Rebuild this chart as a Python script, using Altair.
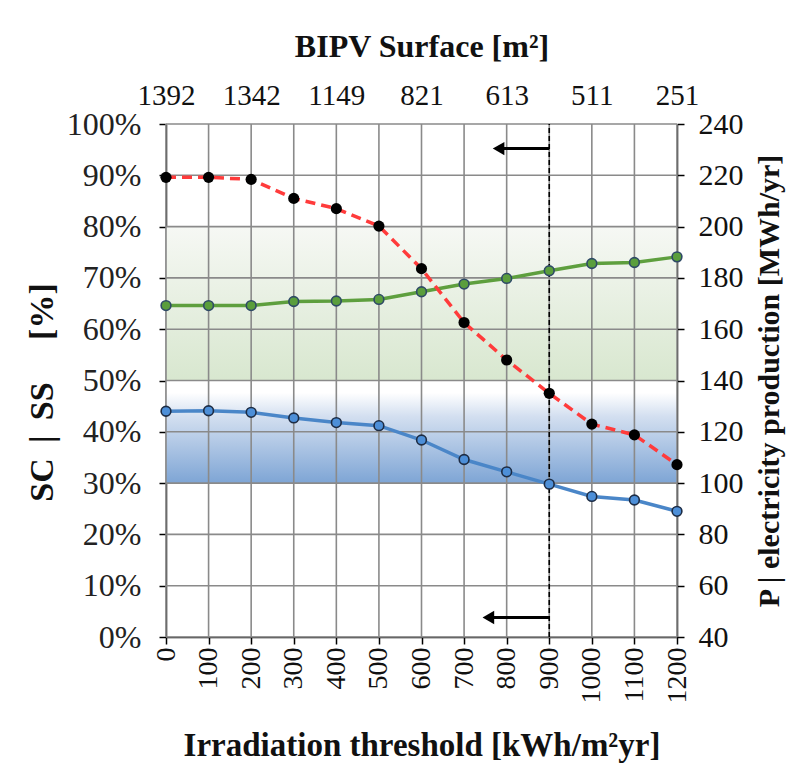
import altair as alt
import pandas as pd

# ---- data ----
threshold = [0, 100, 200, 300, 400, 500, 600, 700, 800, 900, 1000, 1100, 1200]
sc_green = [64.6, 64.6, 64.6, 65.4, 65.5, 65.8, 67.3, 68.8, 69.9, 71.4, 72.8, 73.0, 74.1]
ss_blue = [44.0, 44.1, 43.8, 42.7, 41.8, 41.2, 38.4, 34.6, 32.2, 29.8, 27.4, 26.7, 24.5]
prod_red = [219.2, 219.2, 218.4, 211.0, 207.0, 200.2, 183.6, 162.6, 148.0, 135.0, 123.0, 118.8, 107.2]

surface_ticks = [0, 200, 400, 600, 800, 1000, 1200]
surface_labels = ["1392", "1342", "1149", "821", "613", "511", "251"]

y_grid = [0, 10, 20, 30, 40, 50, 60, 70, 80, 90, 100]
x_grid = threshold
right_ticks = [40, 60, 80, 100, 120, 140, 160, 180, 200, 220, 240]

green_band = [50, 80]
blue_band = [30, 50]
chosen_threshold = 900
arrow_top = {"x": 900, "x2": 781, "y": 95.2}
arrow_bottom = {"x": 900, "x2": 757, "y": 3.8}

FONT = "Liberation Serif"
W, H = 511, 513
NB = "\u00a0"
TH = "\u2009"

df = pd.DataFrame({"t": threshold, "sc": sc_green, "ss": ss_blue, "p": prod_red})

xs = alt.Scale(domain=[0, 1200], nice=False, zero=False)
yl = alt.Scale(domain=[0, 100], nice=False, zero=False)
yr = alt.Scale(domain=[40, 240], nice=False, zero=False)

x_axis = alt.Axis(
    values=threshold, format="d", labelAngle=270, grid=False, domainColor="black", domainWidth=1.5,
    tickColor="black", tickSize=7, tickWidth=1.5, labelPadding=3, labelFontSize=28,
    labelFont=FONT, labelColor="#111", title="Irradiation threshold [kWh/m²yr]",
    titleFont=FONT, titleFontSize=33, titleFontWeight="bold", titlePadding=26,
    titleColor="#111", labelFlush=False,
)
y_axis = alt.Axis(
    values=y_grid, labelExpr="datum.value + '%'", grid=False, domainColor="black",
    domainWidth=1.5, tickColor="black", tickSize=7, tickWidth=1.5, labelPadding=18,
    labelFontSize=32, labelFont=FONT, labelColor="#222",
    title="SC" + NB + TH + "|" + NB + TH + "SS" + NB * 5 + "[%]",
    titleFont=FONT, titleFontSize=34, titleFontWeight="bold", titlePadding=7, titleY=268,
    titleColor="#111", labelFlush=False,
)
yr_axis = alt.Axis(
    orient="right", values=right_ticks, format="d", grid=False, domainColor="black", domainWidth=1.5,
    tickColor="black", tickSize=7, tickWidth=1.5, labelPadding=14, labelFontSize=30,
    labelFont=FONT, labelColor="#111", title="P | electricity production [MWh/yr]",
    titleFont=FONT, titleFontSize=30, titleFontWeight="bold", titlePadding=11,
    titleAngle=270, titleBaseline="top", titleColor="#111", labelFlush=False,
)
label_expr = "[" + ",".join("'" + s + "'" for s in surface_labels) + "][round(datum.value/200)]"
top_axis = alt.Axis(
    orient="top", values=surface_ticks, labelExpr=label_expr, ticks=False, domain=False,
    grid=False, labelPadding=14, labelFontSize=29, labelFont=FONT, labelColor="#111",
    title="BIPV Surface [m²]", titleFont=FONT, titleFontSize=32, titleFontWeight="bold",
    titlePadding=18, titleColor="#111", labelFlush=False,
)

green_grad = alt.Gradient(
    gradient="linear", x1=0, y1=0, x2=0, y2=1,
    stops=[alt.GradientStop(color="#f6f8f4", offset=0), alt.GradientStop(color="#d8e7cf", offset=1)],
)
blue_grad = alt.Gradient(
    gradient="linear", x1=0, y1=0, x2=0, y2=1,
    stops=[alt.GradientStop(color="#ffffff", offset=0), alt.GradientStop(color="#ffffff", offset=0.12),
           alt.GradientStop(color="#d3dff0", offset=0.35), alt.GradientStop(color="#7ea5d5", offset=1)],
)

bands = pd.DataFrame({
    "x": [0, 0], "x2": [1200, 1200],
    "y": [green_band[0], blue_band[0]], "y2": [green_band[1], blue_band[1]],
    "k": ["g", "b"],
})

green_rect = alt.Chart(bands[bands.k == "g"]).mark_rect(color=green_grad).encode(
    x=alt.X("x:Q", scale=xs, axis=x_axis), x2="x2:Q",
    y=alt.Y("y:Q", scale=yl, axis=y_axis), y2="y2:Q")
blue_rect = alt.Chart(bands[bands.k == "b"]).mark_rect(color=blue_grad).encode(
    x=alt.X("x:Q", scale=xs, axis=x_axis), x2="x2:Q",
    y=alt.Y("y:Q", scale=yl, axis=y_axis), y2="y2:Q")

hgrid = alt.Chart(pd.DataFrame({"g": y_grid})).mark_rule(color="#8a8a8a", strokeWidth=1.6).encode(
    y=alt.Y("g:Q", scale=yl, axis=y_axis), x=alt.value(0), x2=alt.value(W))
vgrid = alt.Chart(pd.DataFrame({"g": x_grid})).mark_rule(color="#8a8a8a", strokeWidth=1.6).encode(
    x=alt.X("g:Q", scale=xs, axis=x_axis), y=alt.value(0), y2=alt.value(H))

vline = alt.Chart(pd.DataFrame({"x": [chosen_threshold], "y": [0], "y2": [100]})).mark_rule(
    color="black", strokeWidth=1.6, strokeDash=[5, 3]).encode(
    x=alt.X("x:Q", scale=xs, axis=x_axis), y=alt.Y("y:Q", scale=yl, axis=y_axis), y2="y2:Q")

arrows = pd.DataFrame([arrow_top, arrow_bottom])
arrow_shaft = alt.Chart(arrows).mark_rule(color="black", strokeWidth=3).encode(
    x=alt.X("x:Q", scale=xs, axis=x_axis), x2="x2:Q", y=alt.Y("y:Q", scale=yl, axis=y_axis))
arrow_head = alt.Chart(arrows).mark_point(shape="triangle-left", filled=True, color="black",
                                          size=180, opacity=1).encode(
    x=alt.X("x2:Q", scale=xs, axis=x_axis), y=alt.Y("y:Q", scale=yl, axis=y_axis))

green_line = alt.Chart(df).mark_line(color="#5e9f3e", strokeWidth=3.5).encode(
    x=alt.X("t:Q", scale=xs, axis=x_axis), y=alt.Y("sc:Q", scale=yl, axis=y_axis))
green_pts = alt.Chart(df).mark_point(filled=True, fill="#5a9e3c", stroke="#2e4a66",
                                     strokeWidth=1.6, size=95, opacity=1).encode(
    x=alt.X("t:Q", scale=xs, axis=x_axis), y=alt.Y("sc:Q", scale=yl, axis=y_axis))
blue_line = alt.Chart(df).mark_line(color="#4a86c8", strokeWidth=3.5).encode(
    x=alt.X("t:Q", scale=xs, axis=x_axis), y=alt.Y("ss:Q", scale=yl, axis=y_axis))
blue_pts = alt.Chart(df).mark_point(filled=True, fill="#4d8fd8", stroke="#1d2c44",
                                    strokeWidth=1.6, size=95, opacity=1).encode(
    x=alt.X("t:Q", scale=xs, axis=x_axis), y=alt.Y("ss:Q", scale=yl, axis=y_axis))

left = alt.layer(green_rect, blue_rect, hgrid, vgrid, vline, arrow_shaft, arrow_head,
                 green_line, blue_line, green_pts, blue_pts)

red_line = alt.Chart(df).mark_line(color="#ff3b3b", strokeWidth=3.5, strokeDash=[10, 6]).encode(
    x=alt.X("t:Q", scale=xs, axis=top_axis), y=alt.Y("p:Q", scale=yr, axis=yr_axis))
red_pts = alt.Chart(df).mark_point(filled=True, color="black", size=125, opacity=1).encode(
    x=alt.X("t:Q", scale=xs, axis=top_axis), y=alt.Y("p:Q", scale=yr, axis=yr_axis))
right = alt.layer(red_line, red_pts)

chart = alt.layer(left, right).resolve_scale(y="independent").resolve_axis(
    x="independent", y="independent"
).properties(
    width=W, height=H,
    autosize=alt.AutoSizeParams(type="none"),
    padding={"left": 158, "top": 116, "right": 112, "bottom": 128},
    background="white",
).configure_view(stroke=None).configure_axis(labelFont=FONT, titleFont=FONT)

chart.save("out.html", embed_options={"renderer": "svg", "actions": False})
